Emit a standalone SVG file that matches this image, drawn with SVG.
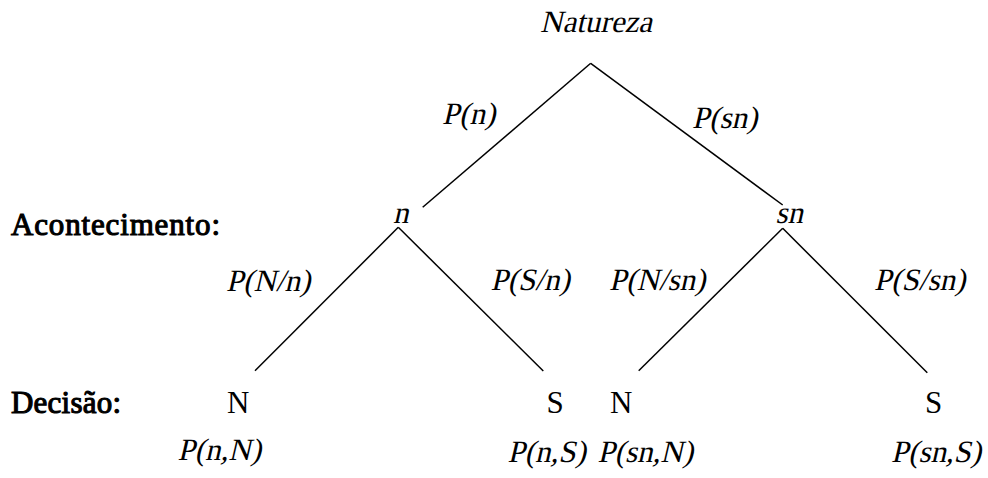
<svg xmlns="http://www.w3.org/2000/svg" width="988" height="478" viewBox="0 0 988 478">
<rect width="988" height="478" fill="#fff"/>
<g id="connectors" stroke="#000" stroke-width="1.5" fill="none">
<line x1="590.7" y1="63.3" x2="422.7" y2="207.3"/>
<line x1="590.7" y1="63.3" x2="782.7" y2="205"/>
<line x1="398.3" y1="227.3" x2="255" y2="370.7"/>
<line x1="398.3" y1="227.3" x2="543.3" y2="371"/>
<line x1="782.7" y1="228.3" x2="638.7" y2="370.7"/>
<line x1="782.7" y1="228.3" x2="927.3" y2="372.7"/>
</g>
<g font-size="31" font-family="Liberation Serif, serif" fill="#000">
<g id="edge-labels">
<text transform="translate(442 124) skewX(-13)">P(n)</text>
<text transform="translate(692 127.5) skewX(-13)">P(sn)</text>
<text transform="translate(226 291) skewX(-13)">P(N/n)</text>
<text transform="translate(490.5 290) skewX(-13)">P(S/n)</text>
<text transform="translate(609 290) skewX(-13)">P(N/sn)</text>
<text transform="translate(874 290) skewX(-13)">P(S/sn)</text>
</g>
<g id="row-labels" stroke="#000" stroke-width="1.1">
<text x="11" y="235" textLength="209">Acontecimento:</text>
<text x="11" y="412.5" textLength="110">Decisão:</text>
</g>
<g id="node-natureza"><text transform="translate(596 31.5) skewX(-13)" text-anchor="middle">Natureza</text></g>
<g id="node-n"><text transform="translate(393 223) skewX(-13)">n</text></g>
<g id="node-sn"><text transform="translate(775.5 223) skewX(-13)">sn</text></g>
<g id="node-n-N">
<text x="227" y="412.5">N</text>
<text transform="translate(177.5 460) skewX(-13)">P(n,N)</text>
</g>
<g id="node-n-S">
<text x="546.5" y="412.5">S</text>
<text transform="translate(507.5 461.5) skewX(-13)">P(n,S)</text>
</g>
<g id="node-sn-N">
<text x="610" y="412.5">N</text>
<text transform="translate(597.5 461.5) skewX(-13)">P(sn,N)</text>
</g>
<g id="node-sn-S">
<text x="925" y="412.5">S</text>
<text transform="translate(891 461.5) skewX(-13)" textLength="90">P(sn,S)</text>
</g>
</g>
</svg>
